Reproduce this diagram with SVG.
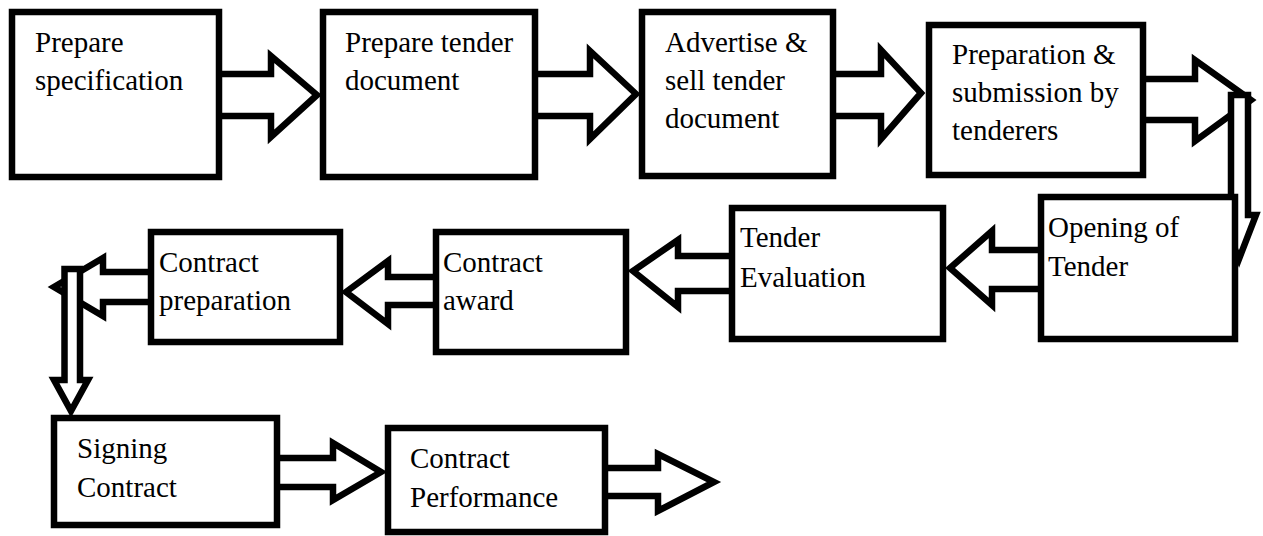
<svg xmlns="http://www.w3.org/2000/svg" width="1263" height="536" viewBox="0 0 1263 536">
<style>
.bx{fill:#fff;stroke:#000;stroke-width:6.5}
.ar{fill:#fff;stroke:#000;stroke-width:6.5;stroke-linejoin:miter}
.t{font-family:"Liberation Serif","Times New Roman",serif;font-size:29px;fill:#000}
</style>
<rect width="1263" height="536" fill="#fff"/>
<g id="connectors">
<polygon class="ar" points="200,74 271,74 271,56 317,95 271,137 271,116 200,116"/>
<polygon class="ar" points="515,74 590,74 590,51 636,94 590,139 590,116 515,116"/>
<polygon class="ar" points="815,74 881,74 881,50 921,93 881,139 881,116 815,116"/>
<polygon class="ar" points="1125,79 1195,79 1195,60 1251,100 1195,141 1195,120 1125,120"/>
<polygon class="ar" points="1231,95 1248,95 1248,215 1256,215 1239,259 1221,215 1231,215"/>
<polygon class="ar" points="1060,250 992,250 992,231 950,268 992,305 992,289 1060,289"/>
<polygon class="ar" points="750,256 678,256 678,240 633,271 678,307 678,291 750,291"/>
<polygon class="ar" points="455,277 388,277 388,261 346,292 388,324 388,305 455,305"/>
<polygon class="ar" points="170,272 103,272 103,258 54,287 103,316 103,302 170,302"/>
<polygon class="ar" points="64.5,269 80,269 80,380 88,380 71,411 54,380 64.5,380"/>
<polygon class="ar" points="260,458 333,458 333,443 381,472 333,500 333,487 260,487"/>
<polygon class="ar" points="590,468 658,468 658,454 714,482 658,511 658,496 590,496"/>
</g>
<g id="n1"><rect class="bx" x="12" y="12" width="207" height="165"/><text class="t" x="35" y="52">Prepare</text><text class="t" x="35" y="90">specification</text></g>
<g id="n2"><rect class="bx" x="323" y="12" width="212" height="165"/><text class="t" x="345" y="52">Prepare tender</text><text class="t" x="345" y="90">document</text></g>
<g id="n3"><rect class="bx" x="642" y="12" width="191" height="164"/><text class="t" x="665" y="52">Advertise &amp;</text><text class="t" x="665" y="90">sell tender</text><text class="t" x="665" y="128">document</text></g>
<g id="n4"><rect class="bx" x="929" y="25" width="214" height="150"/><text class="t" x="952" y="64">Preparation &amp;</text><text class="t" x="952" y="102">submission by</text><text class="t" x="952" y="140">tenderers</text></g>
<g id="n5"><rect class="bx" x="1041" y="197" width="194" height="142"/><text class="t" x="1048" y="237">Opening of</text><text class="t" x="1048" y="276">Tender</text></g>
<g id="n6"><rect class="bx" x="732" y="208" width="211" height="131"/><text class="t" x="740" y="247">Tender</text><text class="t" x="740" y="287">Evaluation</text></g>
<g id="n7"><rect class="bx" x="436" y="232" width="190" height="120"/><text class="t" x="443" y="272">Contract</text><text class="t" x="443" y="310">award</text></g>
<g id="n8"><rect class="bx" x="151" y="232" width="189" height="110"/><text class="t" x="159" y="272">Contract</text><text class="t" x="159" y="310">preparation</text></g>
<g id="n9"><rect class="bx" x="54" y="418" width="223" height="107"/><text class="t" x="77" y="458">Signing</text><text class="t" x="77" y="497">Contract</text></g>
<g id="n10"><rect class="bx" x="388" y="428" width="217" height="104"/><text class="t" x="410" y="468">Contract</text><text class="t" x="410" y="507">Performance</text></g>
</svg>
